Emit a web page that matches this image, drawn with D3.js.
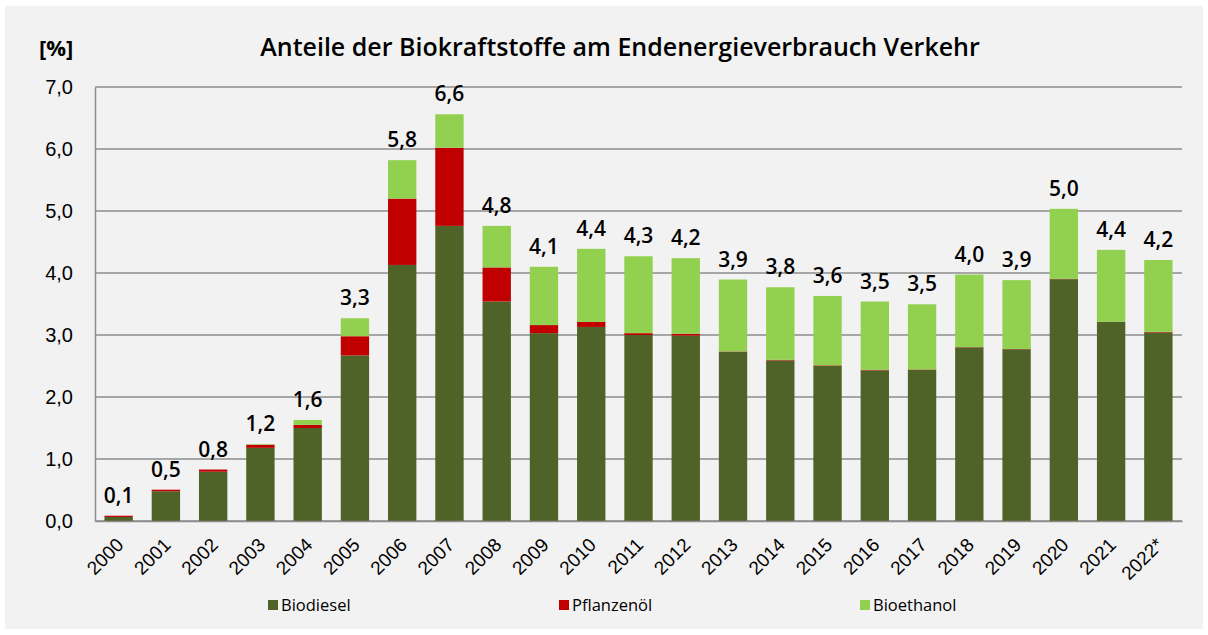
<!DOCTYPE html>
<html>
<head>
<meta charset="utf-8">
<script src="https://cdn.jsdelivr.net/npm/d3@7"></script>
<style>
  body { margin: 0; background: #fff; }
  svg { display: block; font-family: "Open Sans", "Noto Sans", sans-serif; }
</style>
</head>
<body>
<div id="main"></div>
<script>
// data
const years = ["2000", "2001", "2002", "2003", "2004", "2005", "2006", "2007", "2008", "2009", "2010", "2011",
    "2012", "2013", "2014", "2015", "2016", "2017", "2018", "2019", "2020", "2021", "2022*"];
const biodiesel = [0.065, 0.48, 0.795, 1.18, 1.5, 2.67, 4.13, 4.76, 3.54, 3.03, 3.13, 3.0,
    2.99, 2.73, 2.59, 2.5, 2.43, 2.44, 2.8, 2.77, 3.9, 3.21, 3.04];
const pflanzenoel = [0.02, 0.025, 0.035, 0.05, 0.05, 0.31, 1.07, 1.26, 0.55, 0.13, 0.08, 0.03,
    0.03, 0.005, 0.01, 0.01, 0.01, 0.005, 0.005, 0.005, 0.005, 0.003, 0.01];
const bioethanol = [0.0, 0.0, 0.0, 0.01, 0.08, 0.29, 0.62, 0.54, 0.67, 0.94, 1.18, 1.24,
    1.22, 1.16, 1.17, 1.12, 1.1, 1.05, 1.17, 1.11, 1.13, 1.16, 1.16];
const totalLabels = ["0,1", "0,5", "0,8", "1,2", "1,6", "3,3", "5,8", "6,6", "4,8", "4,1", "4,4", "4,3",
    "4,2", "3,9", "3,8", "3,6", "3,5", "3,5", "4,0", "3,9", "5,0", "4,4", "4,2"];
const yTicks = [0, 1, 2, 3, 4, 5, 6, 7];
const seriesNames = ["Biodiesel", "Pflanzenöl", "Bioethanol"];
const seriesColors = ["#4f6228", "#c00000", "#92d050"];

const width = 1208, height = 635;
const margin = {top: 87, right: 26, bottom: 114, left: 95};

const svg = d3.select("#main").append("svg")
    .attr("width", width).attr("height", height);

svg.append("rect")
    .attr("x", 5).attr("y", 6)
    .attr("width", width - 10).attr("height", height - 12)
    .attr("fill", "#f2f2f2");

const rows = years.map(function (y, i) {
    return {year: y, Biodiesel: biodiesel[i], "Pflanzenöl": pflanzenoel[i], Bioethanol: bioethanol[i], label: totalLabels[i]};
});

const x = d3.scaleBand().domain(years)
    .range([margin.left, width - margin.right])
    .paddingInner(0.4).paddingOuter(0.2);
const y = d3.scaleLinear().domain([0, 7])
    .range([height - margin.bottom, margin.top]);

// gridlines
svg.append("g").selectAll("line").data(yTicks).join("line")
    .attr("x1", margin.left).attr("x2", width - margin.right)
    .attr("y1", d => y(d)).attr("y2", d => y(d))
    .attr("stroke", "#8c8c8c").attr("stroke-width", 1.5);

// y axis
const yAxis = d3.axisLeft(y).tickValues(yTicks).tickSize(0).tickPadding(22)
    .tickFormat(d => d3.format(".1f")(d).replace(".", ","));
const gy = svg.append("g").attr("transform", "translate(" + margin.left + ",0)").call(yAxis);
gy.select(".domain").attr("stroke", "#8c8c8c").attr("stroke-width", 1.5);
gy.selectAll("text").attr("font-size", 20).attr("fill", "#000");

// stacked bars
const stack = d3.stack().keys(seriesNames)(rows);
svg.append("g").selectAll("g").data(stack).join("g")
    .attr("fill", (d, i) => seriesColors[i])
    .selectAll("rect").data(d => d).join("rect")
    .attr("x", d => x(d.data.year))
    .attr("width", x.bandwidth())
    .attr("y", d => y(d[1]))
    .attr("height", d => y(d[0]) - y(d[1]));

// total labels
const total = d => d.Biodiesel + d["Pflanzenöl"] + d.Bioethanol;
svg.append("g").selectAll("text").data(rows).join("text")
    .attr("x", d => x(d.year) + x.bandwidth() / 2)
    .attr("y", d => y(total(d)) - 13)
    .attr("text-anchor", "middle")
    .attr("font-size", 21).attr("font-weight", 600)
    .text(d => d.label);

// x axis
const xAxis = d3.axisBottom(x).tickSize(0).tickPadding(0);
const gx = svg.append("g").attr("transform", "translate(0," + y(0) + ")").call(xAxis);
gx.select(".domain").attr("stroke", "#8c8c8c").attr("stroke-width", 1.5);
gx.selectAll("text")
    .attr("font-size", 19).attr("fill", "#000")
    .attr("text-anchor", "end")
    .attr("dy", null)
    .attr("transform", "translate(6,25) rotate(-45)");

// title
svg.append("text")
    .attr("x", 620).attr("y", 56)
    .attr("text-anchor", "middle")
    .attr("font-size", 25).attr("font-weight", 600)
    .text("Anteile der Biokraftstoffe am Endenergieverbrauch Verkehr");
svg.append("text")
    .attr("x", 39).attr("y", 56)
    .attr("font-size", 22).attr("font-weight", 700)
    .text("[%]");

// legend
const legendX = [268, 559, 860];
const legend = svg.append("g").selectAll("g").data(seriesNames).join("g")
    .attr("transform", (d, i) => "translate(" + legendX[i] + ",605)");
legend.append("rect")
    .attr("x", 0).attr("y", -5).attr("width", 10).attr("height", 10)
    .attr("fill", (d, i) => seriesColors[i]);
legend.append("text")
    .attr("x", 13).attr("y", 6)
    .attr("font-size", 16.5).attr("fill", "#000")
    .text(d => d);
</script>
</body>
</html>
